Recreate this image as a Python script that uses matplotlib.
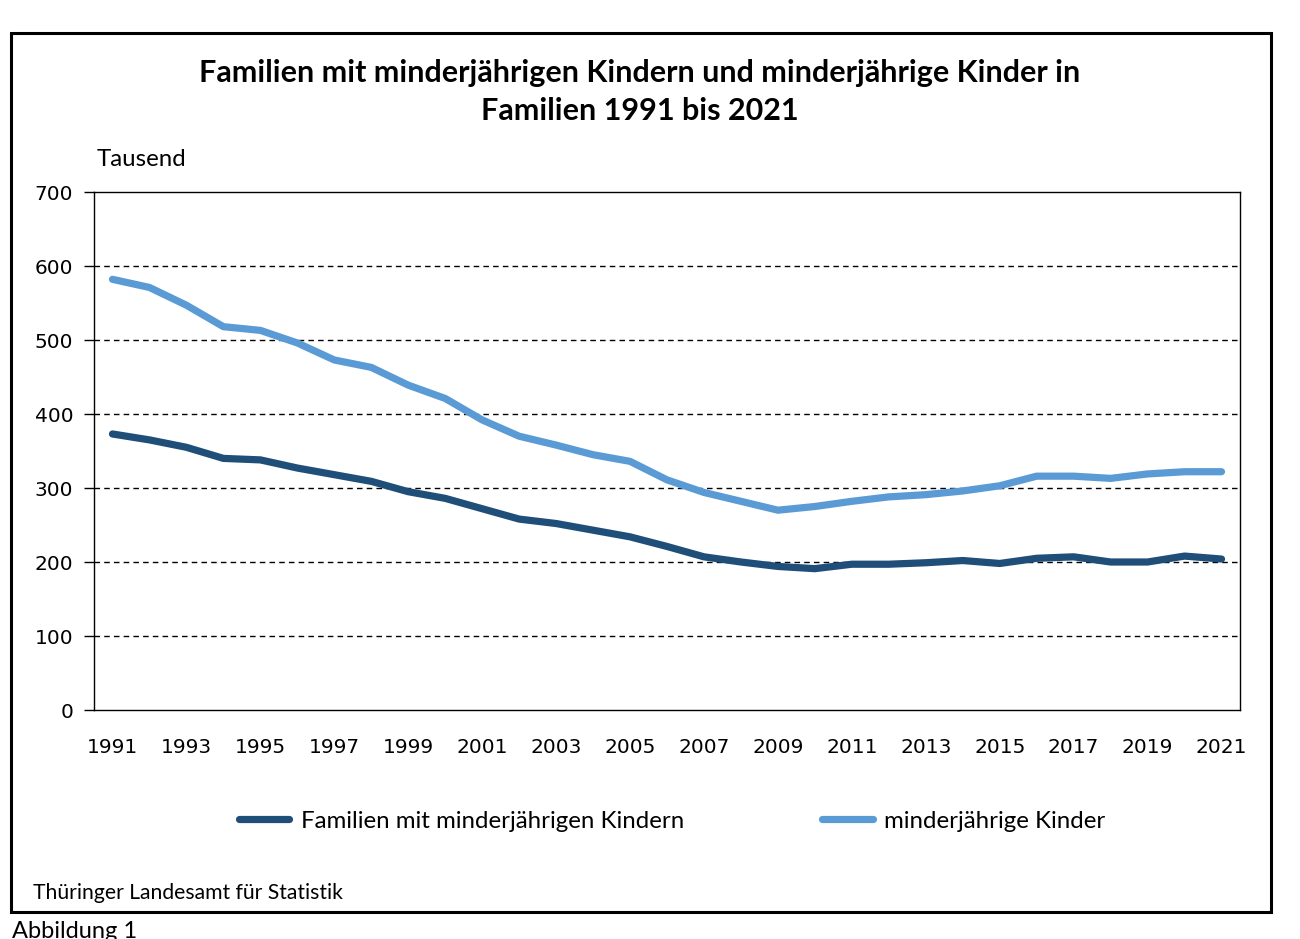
import matplotlib
matplotlib.use("Agg")
import matplotlib.pyplot as plt
from matplotlib.patches import Rectangle

years = list(range(1991, 2022))
familien = [373, 365, 355, 340, 338, 327, 318, 309, 295, 286, 272, 258, 252, 243, 234,
            221, 207, 200, 194, 191, 197, 197, 199, 202, 198, 205, 207, 200, 200, 208, 204]
kinder = [582, 571, 547, 518, 513, 496, 473, 463, 439, 421, 392, 370, 358, 345, 336,
          311, 294, 282, 270, 275, 282, 288, 291, 296, 303, 316, 316, 313, 319, 322, 322]
series_labels = ["Familien mit minderjährigen Kindern", "minderjährige Kinder"]
title = "Familien mit minderjährigen Kindern und minderjährige Kinder in\nFamilien 1991 bis 2021"
yticks = [0, 100, 200, 300, 400, 500, 600, 700]
xticks = list(range(1991, 2022, 2))

W, H = 1300, 939
fig = plt.figure(figsize=(W / 100, H / 100), dpi=100)
fig.patch.set_facecolor("white")

def fx(px):
    return px / W

def fy(py):
    return 1 - py / H

# outer frame
fig.patches.append(Rectangle((fx(11), fy(912)), fx(1271) - fx(11), fy(33) - fy(912),
                             transform=fig.transFigure, fill=False, edgecolor="black",
                             linewidth=2.2, zorder=0))

ax = fig.add_axes([fx(94), fy(710), fx(1240) - fx(94), fy(192) - fy(710)])
c_dark = "#1F4E79"
c_light = "#5B9BD5"
l1, = ax.plot(years, familien, color=c_dark, lw=5.2, solid_capstyle="round",
              solid_joinstyle="round", zorder=3)
l2, = ax.plot(years, kinder, color=c_light, lw=5.2, solid_capstyle="round",
              solid_joinstyle="round", zorder=3)

ax.set_xlim(1990.5, 2021.5)
ax.set_ylim(0, 700)
ax.set_yticks(yticks)
ax.set_xticks(xticks)
ax.set_xticklabels([str(y) for y in xticks], fontfamily="DejaVu Sans", fontsize=14.5)
ax.set_yticklabels([str(v) for v in yticks], fontfamily="DejaVu Sans", fontsize=14.5)
ax.tick_params(axis="x", length=0, pad=20)
ax.tick_params(axis="y", length=7, width=1, direction="out", pad=8)
for v in yticks[1:-1]:
    ax.axhline(v, color="black", lw=1, ls=(0, (4, 3)), zorder=1)
for s in ax.spines.values():
    s.set_color("black")
    s.set_linewidth(1)

fig.text(0.492, fy(92), title, ha="center", va="center", fontfamily="Lato",
         fontweight="bold", fontsize=22, linespacing=1.47)
fig.text(fx(97), fy(160), "Tausend", ha="left", va="center", fontfamily="Lato", fontsize=17.3)

leg = fig.legend([l1, l2], series_labels, loc="center", bbox_to_anchor=(fx(672), fy(821)),
                 ncol=2, frameon=False, prop={"family": "Lato", "size": 17.3},
                 handlelength=2.1, handletextpad=0.48, columnspacing=5.75)

fig.text(fx(33), fy(893), "Thüringer Landesamt für Statistik", ha="left", va="center",
         fontfamily="Lato", fontsize=15.2)
fig.text(fx(12), fy(931), "Abbildung 1", ha="left", va="center",
         fontfamily="Lato", fontsize=17)

fig.savefig("out.png", dpi=100)
